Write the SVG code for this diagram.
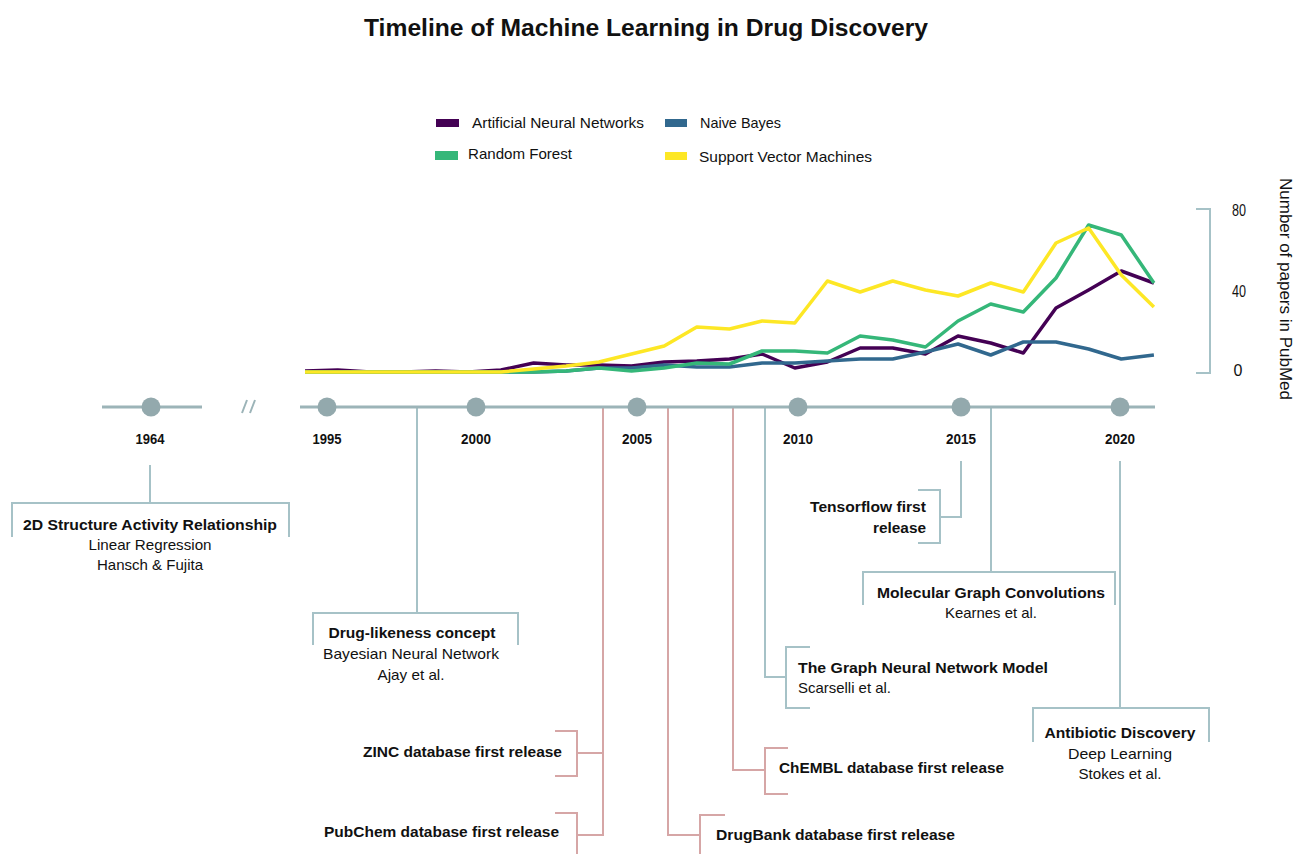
<svg xmlns="http://www.w3.org/2000/svg" width="1296" height="854" viewBox="0 0 1296 854">
<defs>
<style>
text { font-family: "Liberation Sans", Arial, sans-serif; fill: #111; }
.title { font-size: 24px; font-weight: bold; }
.leg { font-size: 15px; }
.yr { font-size: 15.5px; font-weight: bold; text-anchor: middle; }
.b { font-size: 15px; font-weight: bold; }
.r { font-size: 15px; }
.m { text-anchor: middle; }
.e { text-anchor: end; }
.ax { font-size: 16px; text-anchor: middle; }
.bl { fill: none; stroke: #a6c2c7; stroke-width: 2; }
.rd { fill: none; stroke: #d6a6a6; stroke-width: 2; }
.tl { fill: none; stroke: #9cb4b8; stroke-width: 3; }
.dot { fill: #93a9ad; }
.ser { fill: none; stroke-width: 3.5; stroke-linejoin: round; stroke-linecap: butt; }
</style>
</defs>
<rect width="1296" height="854" fill="#ffffff"/>

<text class="title" x="646" y="36" text-anchor="middle" textLength="564" lengthAdjust="spacingAndGlyphs">Timeline of Machine Learning in Drug Discovery</text>

<g id="legend">
<rect x="436" y="119" width="23" height="8" fill="#440154"/>
<text class="leg" x="472" y="128" textLength="172" lengthAdjust="spacingAndGlyphs">Artificial Neural Networks</text>
<rect x="665" y="119" width="22" height="8" fill="#31688e"/>
<text class="leg" x="700" y="128" textLength="81" lengthAdjust="spacingAndGlyphs">Naive Bayes</text>
<rect x="435" y="151" width="23" height="9" fill="#35b779"/>
<text class="leg" x="468" y="159" textLength="104" lengthAdjust="spacingAndGlyphs">Random Forest</text>
<rect x="665" y="152" width="22" height="8" fill="#fde725"/>
<text class="leg" x="699" y="162" textLength="173" lengthAdjust="spacingAndGlyphs">Support Vector Machines</text>
</g>

<g id="chart">
<polyline class="ser" stroke="#440154" points="305,371 337.7,370 370.3,372 403,372 435.6,371 468.3,372 500.9,370 533.6,363 566.2,365 598.9,365 631.5,366 664.2,362 696.8,361 729.5,359 762.1,354 794.8,368 827.4,362 860.1,348 892.7,348 925.4,354 958,336 990.7,343 1023.3,353 1056,308 1088.6,290 1121.3,271 1153.9,283"/>
<polyline class="ser" stroke="#31688e" points="305,372 337.7,372 370.3,372 403,372 435.6,372 468.3,372 500.9,372 533.6,372 566.2,371 598.9,368 631.5,368 664.2,365 696.8,367 729.5,367 762.1,363 794.8,363 827.4,361 860.1,359 892.7,359 925.4,352 958,344 990.7,355 1023.3,342 1056,342 1088.6,349 1121.3,359 1153.9,355"/>
<polyline class="ser" stroke="#35b779" points="305,372 337.7,372 370.3,372 403,372 435.6,372 468.3,372 500.9,372 533.6,372 566.2,371 598.9,368 631.5,371 664.2,368 696.8,363 729.5,364 762.1,351 794.8,351 827.4,353 860.1,336 892.7,340 925.4,347 958,321 990.7,304 1023.3,312 1056,278 1088.6,225 1121.3,235 1153.9,283"/>
<polyline class="ser" stroke="#fde725" points="305,372 337.7,372 370.3,372 403,372 435.6,372 468.3,372 500.9,372 533.6,369 566.2,366 598.9,362 631.5,354 664.2,346 696.8,327 729.5,329 762.1,321 794.8,323 827.4,281 860.1,292 892.7,281 925.4,290 958,296 990.7,283 1023.3,292 1056,243 1088.6,228 1121.3,275 1153.9,307"/>
</g>

<g id="y-axis">
<path class="bl" d="M1196,209 H1210 V373 H1196"/>
<text class="ax" x="1239" y="216" textLength="14" lengthAdjust="spacingAndGlyphs">80</text>
<text class="ax" x="1239" y="297" textLength="14" lengthAdjust="spacingAndGlyphs">40</text>
<text class="ax" x="1238" y="376">0</text>
<text x="0" y="0" transform="translate(1280,289) rotate(90)" text-anchor="middle" font-size="17" textLength="222" lengthAdjust="spacingAndGlyphs">Number of papers in PubMed</text>
</g>

<g id="connectors">
<path class="bl" d="M150,465 V503"/>
<path class="bl" d="M12,537 V503 H289 V537"/>
<path class="bl" d="M417,407 V613"/>
<path class="bl" d="M313,645 V613 H518 V645"/>
<path class="bl" d="M765,407 V677 H786"/>
<path class="bl" d="M810,647 H786 V708 H810"/>
<path class="bl" d="M961,461 V517 H940"/>
<path class="bl" d="M918,490 H940 V543 H918"/>
<path class="bl" d="M991,407 V572"/>
<path class="bl" d="M863,605 V572 H1115 V605"/>
<path class="bl" d="M1120,461 V708"/>
<path class="bl" d="M1033,742 V708 H1209 V742"/>
<path class="rd" d="M603,407 V835 H577 M603,753 H577"/>
<path class="rd" d="M555,731 H577 V776 H555"/>
<path class="rd" d="M555,813 H577 V854"/>
<path class="rd" d="M668,407 V835 H700"/>
<path class="rd" d="M725,815 H700 V854"/>
<path class="rd" d="M733,407 V770 H765"/>
<path class="rd" d="M788,748 H765 V794 H788"/>
</g>

<g id="timeline">
<path class="tl" d="M102,407 H202 M300,407 H1155"/>
<path d="M242,413 L247,400 M250,413 L255,400" stroke="#9cb4b8" stroke-width="2" fill="none"/>
<circle class="dot" cx="151" cy="407" r="9.5"/>
<circle class="dot" cx="327" cy="407" r="9.5"/>
<circle class="dot" cx="476" cy="407" r="9.5"/>
<circle class="dot" cx="637" cy="407" r="9.5"/>
<circle class="dot" cx="798" cy="407" r="9.5"/>
<circle class="dot" cx="961" cy="407" r="9.5"/>
<circle class="dot" cx="1120" cy="407" r="9.5"/>
<text class="yr" x="150" y="444" textLength="29" lengthAdjust="spacingAndGlyphs">1964</text>
<text class="yr" x="327" y="444" textLength="29" lengthAdjust="spacingAndGlyphs">1995</text>
<text class="yr" x="476" y="444" textLength="30" lengthAdjust="spacingAndGlyphs">2000</text>
<text class="yr" x="637" y="444" textLength="30" lengthAdjust="spacingAndGlyphs">2005</text>
<text class="yr" x="798" y="444" textLength="30" lengthAdjust="spacingAndGlyphs">2010</text>
<text class="yr" x="961" y="444" textLength="30" lengthAdjust="spacingAndGlyphs">2015</text>
<text class="yr" x="1120" y="444" textLength="30" lengthAdjust="spacingAndGlyphs">2020</text>
</g>

<g id="ev-sar">
<text class="b m" x="150" y="530" textLength="254" lengthAdjust="spacingAndGlyphs">2D Structure Activity Relationship</text>
<text class="r m" x="150" y="550" textLength="123" lengthAdjust="spacingAndGlyphs">Linear Regression</text>
<text class="r m" x="150" y="570" textLength="106" lengthAdjust="spacingAndGlyphs">Hansch &amp; Fujita</text>
</g>
<g id="ev-druglike">
<text class="b m" x="412" y="638" textLength="167" lengthAdjust="spacingAndGlyphs">Drug-likeness concept</text>
<text class="r m" x="411" y="659" textLength="176" lengthAdjust="spacingAndGlyphs">Bayesian Neural Network</text>
<text class="r m" x="411" y="680" textLength="67" lengthAdjust="spacingAndGlyphs">Ajay et al.</text>
</g>
<g id="ev-zinc">
<text class="b e" x="562" y="757" textLength="199" lengthAdjust="spacingAndGlyphs">ZINC database first release</text>
</g>
<g id="ev-pubchem">
<text class="b e" x="559" y="837" textLength="235" lengthAdjust="spacingAndGlyphs">PubChem database first release</text>
</g>
<g id="ev-drugbank">
<text class="b" x="716" y="840" textLength="239" lengthAdjust="spacingAndGlyphs">DrugBank database first release</text>
</g>
<g id="ev-chembl">
<text class="b" x="779" y="773" textLength="225" lengthAdjust="spacingAndGlyphs">ChEMBL database first release</text>
</g>
<g id="ev-gnn">
<text class="b" x="798" y="673" textLength="250" lengthAdjust="spacingAndGlyphs">The Graph Neural Network Model</text>
<text class="r" x="798" y="693" textLength="93" lengthAdjust="spacingAndGlyphs">Scarselli et al.</text>
</g>
<g id="ev-tensorflow">
<text class="b e" x="926" y="512" textLength="116" lengthAdjust="spacingAndGlyphs">Tensorflow first</text>
<text class="b e" x="926" y="533" textLength="53" lengthAdjust="spacingAndGlyphs">release</text>
</g>
<g id="ev-molgraph">
<text class="b m" x="991" y="598" textLength="228" lengthAdjust="spacingAndGlyphs">Molecular Graph Convolutions</text>
<text class="r m" x="991" y="618" textLength="92" lengthAdjust="spacingAndGlyphs">Kearnes et al.</text>
</g>
<g id="ev-antibiotic">
<text class="b m" x="1120" y="738" textLength="151" lengthAdjust="spacingAndGlyphs">Antibiotic Discovery</text>
<text class="r m" x="1120" y="759" textLength="104" lengthAdjust="spacingAndGlyphs">Deep Learning</text>
<text class="r m" x="1120" y="779" textLength="83" lengthAdjust="spacingAndGlyphs">Stokes et al.</text>
</g>
</svg>
